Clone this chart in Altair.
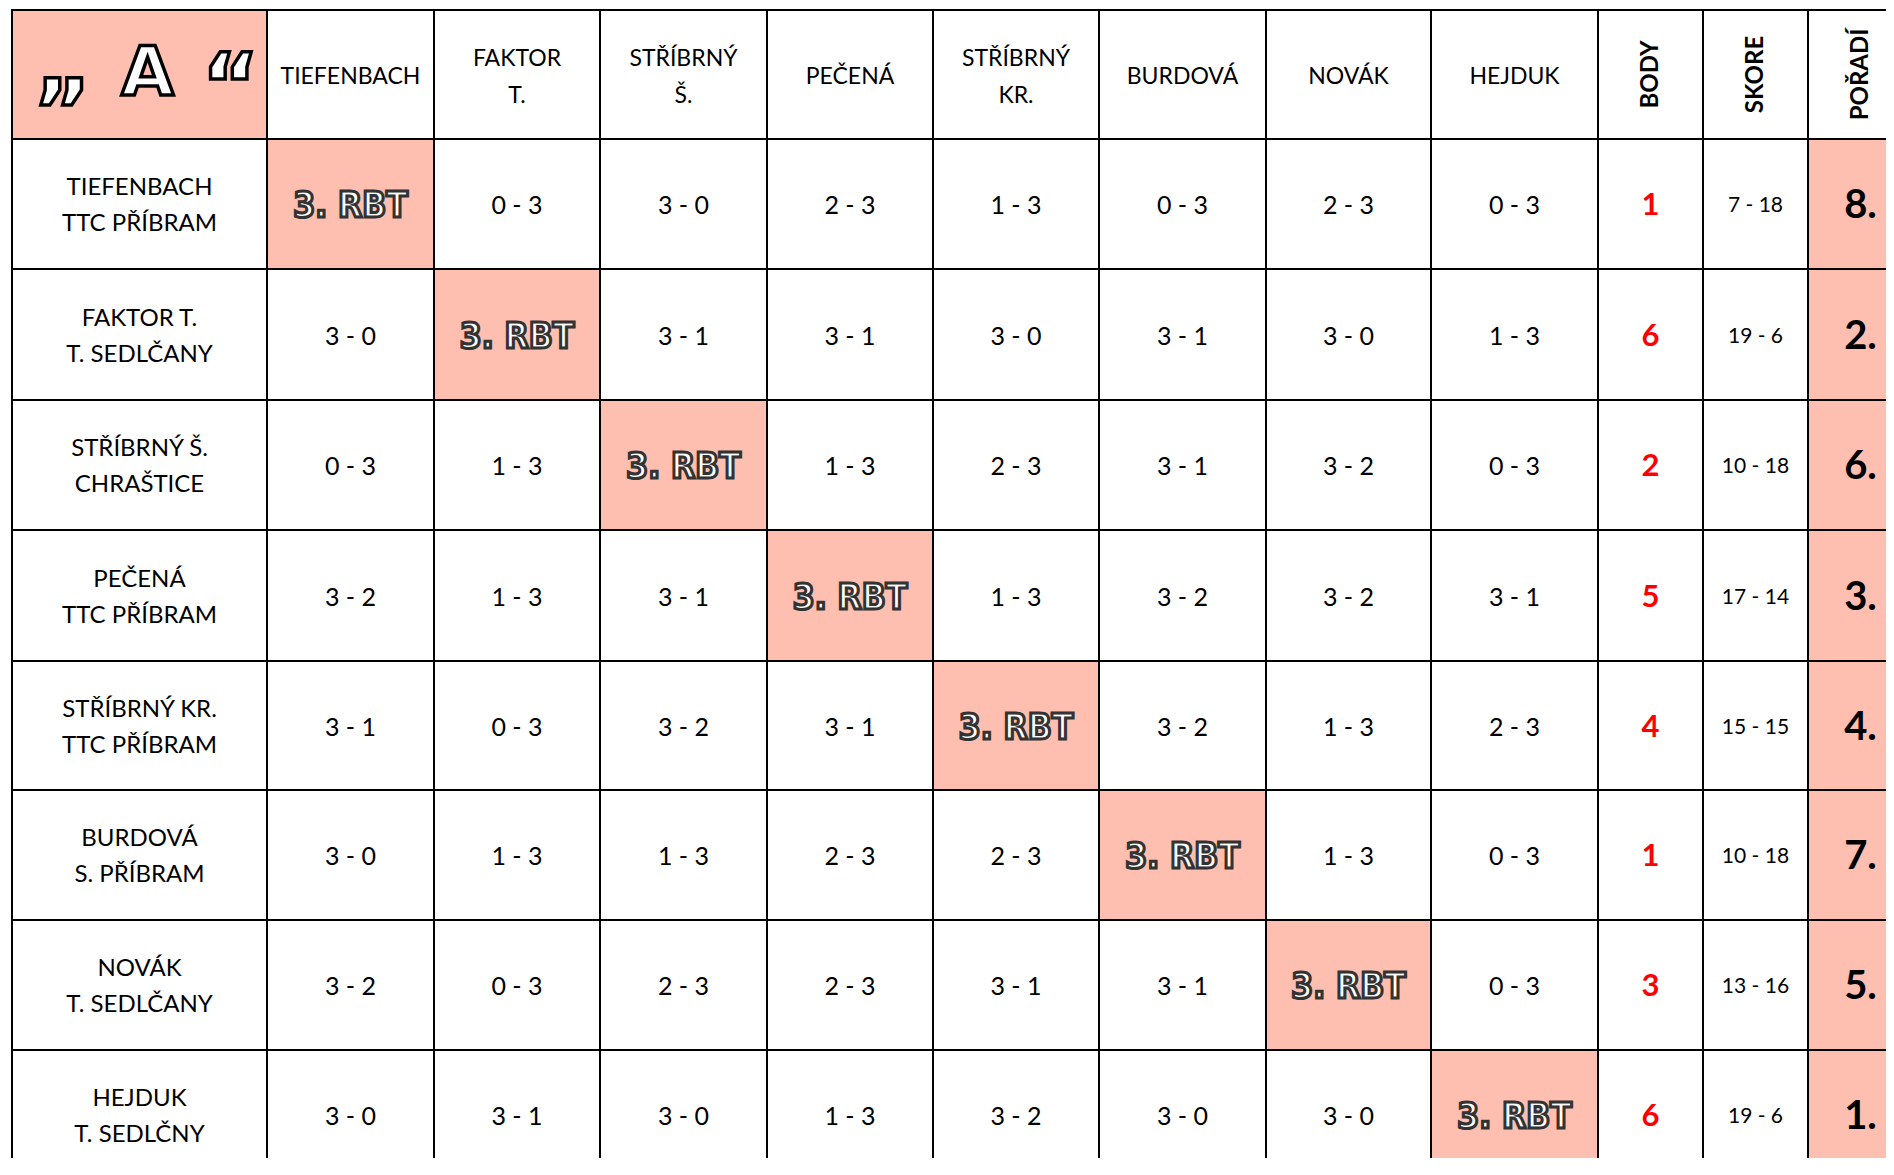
import altair as alt
import pandas as pd

# ---------------- data ----------------
col_headers = ["TIEFENBACH", "FAKTOR\nT.", "STŘÍBRNÝ\nŠ.", "PEČENÁ", "STŘÍBRNÝ\nKR.",
               "BURDOVÁ", "NOVÁK", "HEJDUK"]
row_labels = ["TIEFENBACH\nTTC PŘÍBRAM", "FAKTOR T.\nT. SEDLČANY", "STŘÍBRNÝ Š.\nCHRAŠTICE",
              "PEČENÁ\nTTC PŘÍBRAM", "STŘÍBRNÝ KR.\nTTC PŘÍBRAM", "BURDOVÁ\nS. PŘÍBRAM",
              "NOVÁK\nT. SEDLČANY", "HEJDUK\nT. SEDLČNY"]
stat_headers = ["BODY", "SKORE", "POŘADÍ"]
logo_text = "„A“"
diagonal_label = "3. RBT"
scores = [
    [None, "0 - 3", "3 - 0", "2 - 3", "1 - 3", "0 - 3", "2 - 3", "0 - 3"],
    ["3 - 0", None, "3 - 1", "3 - 1", "3 - 0", "3 - 1", "3 - 0", "1 - 3"],
    ["0 - 3", "1 - 3", None, "1 - 3", "2 - 3", "3 - 1", "3 - 2", "0 - 3"],
    ["3 - 2", "1 - 3", "3 - 1", None, "1 - 3", "3 - 2", "3 - 2", "3 - 1"],
    ["3 - 1", "0 - 3", "3 - 2", "3 - 1", None, "3 - 2", "1 - 3", "2 - 3"],
    ["3 - 0", "1 - 3", "1 - 3", "2 - 3", "2 - 3", None, "1 - 3", "0 - 3"],
    ["3 - 2", "0 - 3", "2 - 3", "2 - 3", "3 - 1", "3 - 1", None, "0 - 3"],
    ["3 - 0", "3 - 1", "3 - 0", "1 - 3", "3 - 2", "3 - 0", "3 - 0", None],
]
body = [1, 6, 2, 5, 4, 1, 3, 6]
skore = ["7 - 18", "19 - 6", "10 - 18", "17 - 14", "15 - 15", "10 - 18", "13 - 16", "19 - 6"]
poradi = [8, 2, 6, 3, 4, 7, 5, 1]

# ---------------- layout / style ----------------
W, H = 1878, 1150
X0, Y0 = 4, 2
col_widths = [255, 167, 166, 167, 166, 166, 167, 165, 167, 105, 105, 105]
row_heights = [129, 130, 131, 130, 131, 129, 130, 130, 130]
PINK = "#FFBFB0"
WHITE = "#FFFFFF"
FONT = "Lato"
LH = 36  # line height for two-line labels

xe = [X0]
for w in col_widths:
    xe.append(xe[-1] + w)
ye = [Y0]
for h in row_heights:
    ye.append(ye[-1] + h)
ncols = len(col_widths)
nrows = len(row_heights)


def cx(c):
    return (xe[c] + xe[c + 1]) / 2


def cy(r, label=""):
    n = label.count("\n") + 1
    return (ye[r] + ye[r + 1]) / 2 - (n - 1) * LH / 2


cells = []
for r in range(nrows):
    for c in range(ncols):
        pink = (r == 0 and c == 0) or (r >= 1 and c == r) or (r >= 1 and c == ncols - 1)
        cells.append({"x": xe[c], "x2": xe[c + 1], "y": ye[r], "y2": ye[r + 1],
                      "fill": PINK if pink else WHITE})
cells = pd.DataFrame(cells)

xs = alt.Scale(domain=[0, W], nice=False, zero=False)
ys = alt.Scale(domain=[0, H], nice=False, zero=False, reverse=True)

rect_layer = alt.Chart(cells).mark_rect(stroke="black", strokeWidth=2, clip=True).encode(
    x=alt.X("x:Q", scale=xs, axis=None), x2="x2:Q",
    y=alt.Y("y:Q", scale=ys, axis=None), y2="y2:Q",
    fill=alt.Fill("fill:N", scale=None),
)


def text_layer(rows, **kw):
    df = pd.DataFrame(rows)
    return alt.Chart(df).mark_text(clip=True, font=kw.pop("font", FONT), **kw).encode(
        x=alt.X("cx:Q", scale=xs, axis=None),
        y=alt.Y("cy:Q", scale=ys, axis=None),
        text="label:N",
    )


hdr = [{"cx": cx(i + 1), "cy": cy(0, t), "label": t} for i, t in enumerate(col_headers)]
rowl = [{"cx": cx(0), "cy": cy(i + 1, t), "label": t} for i, t in enumerate(row_labels)]
sc = [{"cx": cx(j + 1), "cy": cy(i + 1), "label": s}
      for i, row in enumerate(scores) for j, s in enumerate(row) if s is not None]
diag = [{"cx": cx(i + 1), "cy": cy(i + 1), "label": diagonal_label} for i in range(len(scores))]
bd = [{"cx": cx(9), "cy": cy(i + 1), "label": str(v)} for i, v in enumerate(body)]
sk = [{"cx": cx(10), "cy": cy(i + 1), "label": v} for i, v in enumerate(skore)]
pr = [{"cx": cx(11), "cy": cy(i + 1), "label": f"{v}."} for i, v in enumerate(poradi)]
sh = [{"cx": cx(9 + i), "cy": cy(0), "label": t} for i, t in enumerate(stat_headers)]

# logo: low quote, letter, high quote
logo_chars = list(logo_text)
logo_dx = [-76, 8, 91]
logo_base = [84, 85, 106]
logo_size = [88, 68, 88]


def logo_layer(i):
    df = pd.DataFrame([{"cx": cx(0) + logo_dx[i], "cy": ye[0] + logo_base[i], "label": logo_chars[i]}])
    return alt.Chart(df).mark_text(
        font="DejaVu Sans", fontWeight="bold", fontSize=logo_size[i],
        baseline="alphabetic", fill="white", stroke="black", strokeWidth=3.5,
    ).encode(
        x=alt.X("cx:Q", scale=xs, axis=None),
        y=alt.Y("cy:Q", scale=ys, axis=None),
        text="label:N",
    )


layers = [
    rect_layer,
    text_layer(hdr, fontSize=23, lineBreak="\n", lineHeight=LH + 1, baseline="middle", dy=2,
               color="black"),
    text_layer(rowl, fontSize=24, lineBreak="\n", lineHeight=LH, baseline="middle", dy=2,
               color="black"),
    text_layer(sc, fontSize=25, baseline="middle", dy=2, color="black"),
    text_layer(diag, fontSize=35, fontWeight="bold", baseline="middle", dy=2,
               font='"DejaVu Sans Condensed", "Liberation Sans Narrow", sans-serif',
               fill="white", stroke="#333333", strokeWidth=3),
    text_layer(bd, fontSize=31, fontWeight="bold", baseline="middle", dy=2, color="#FF0000"),
    text_layer(sk, fontSize=21, baseline="middle", dy=2, color="black"),
    text_layer(pr, fontSize=40, fontWeight="bold", baseline="middle", dy=2, color="black"),
    text_layer(sh, fontSize=24, fontWeight="bold", baseline="middle", angle=270, color="black"),
] + [logo_layer(i) for i in range(len(logo_chars))]

chart = alt.layer(*layers).properties(
    width=W, height=H, padding=0, background="white"
).configure_view(stroke=None)

chart.save("out.html", embed_options={"renderer": "svg", "actions": False})
